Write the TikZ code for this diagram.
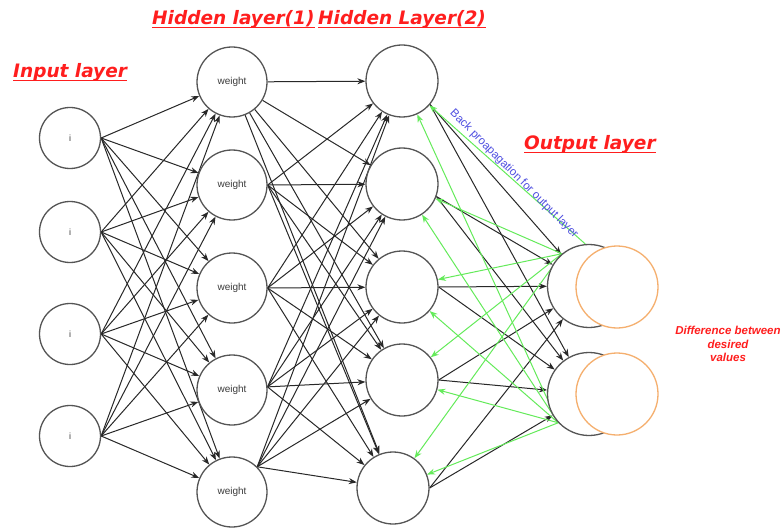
\documentclass[tikz,border=0pt]{standalone}
\usepackage{fontspec}
\setmainfont{Liberation Sans}
\newfontfamily\titlefont{DejaVu Sans}
\usetikzlibrary{arrows.meta,backgrounds}
\definecolor{ttred}{RGB}{255,30,30}
\definecolor{edgegray}{RGB}{40,40,40}
\definecolor{ringgray}{RGB}{85,85,85}
\definecolor{bpgreen}{RGB}{100,235,90}
\definecolor{errorange}{RGB}{245,175,110}
\definecolor{bpblue}{RGB}{80,80,225}
\definecolor{labelgray}{RGB}{60,60,60}

\begin{document}
\begin{tikzpicture}[x=1pt,y=-1pt,
  neuron/.style={circle,draw=ringgray,line width=1.3pt,fill=white,inner sep=0pt},
  inp/.style={neuron,minimum size=61pt,font=\fontsize{9}{10}\selectfont,text=labelgray},
  hida/.style={neuron,minimum size=70pt,font=\fontsize{10}{12}\selectfont,text=labelgray},
  hidb/.style={neuron,minimum size=72pt},
  outn/.style={neuron,minimum size=83pt},
  errn/.style={neuron,draw=errorange,minimum size=82pt},
  fwd/.style={draw=edgegray,line width=1pt,-{Stealth[length=8pt,width=6pt]}},
  bwd/.style={draw=bpgreen,line width=1pt,-{Stealth[length=8pt,width=6pt]}},
  layertitle/.style={text=ttred,font=\titlefont\bfseries\itshape\fontsize{18.5}{20}\selectfont,inner sep=0pt,anchor=base west},
  ul/.style={draw=ttred,line width=1.8pt},
]
\useasboundingbox (0,0) rectangle (783,529);

% input layer
\node[inp] (i1) at (70,138) {i};
\node[inp] (i2) at (70,232) {i};
\node[inp] (i3) at (70,334) {i};
\node[inp] (i4) at (70,436) {i};

% hidden layer 1
\node[hida] (a1) at (232,82) {weight};
\node[hida] (a2) at (232,185) {weight};
\node[hida] (a3) at (232,288) {weight};
\node[hida] (a4) at (232,390) {weight};
\node[hida] (a5) at (232,492) {weight};

% hidden layer 2
\node[hidb] (b1) at (402,81) {};
\node[hidb] (b2) at (402,184) {};
\node[hidb] (b3) at (402,287) {};
\node[hidb] (b4) at (402,380) {};
\node[hidb] (b5) at (393,488) {};

% output layer and error circles
\node[outn] (o1) at (589,286) {};
\node[outn] (o2) at (589,394) {};
\node[errn] (d1) at (617,287) {};
\node[errn] (d2) at (617,394) {};

\begin{scope}[on background layer]
  \fill[white] (0,0) rectangle (783,529);
  % input -> hidden 1
  \foreach \s in {1,...,4}
    \foreach \t in {1,...,5}
      \draw[fwd] (i\s.east) -- (a\t);
  % hidden 1 -> hidden 2
  \foreach \t in {1,...,5} {
    \draw[fwd] (a1) -- (b\t);
    \draw[fwd] (a2.east) -- (b\t);
    \draw[fwd] (a3.east) -- (b\t);
    \draw[fwd] (a4.5) -- (b\t);
    \draw[fwd] (a5.45) -- (b\t);
  }
  % hidden 2 -> output
  \foreach \o in {1,2} {
    \draw[fwd] (b1.-40) -- (o\o);
    \draw[fwd] (b2.-20) -- (o\o);
    \draw[fwd] (b3.east) -- (o\o);
    \draw[fwd] (b4.east) -- (o\o);
    \draw[fwd] (b5.east) -- (o\o);
  }
  % error back propagation
  \draw[bwd] (o1.95) -- (b1);
  \foreach \t in {2,...,5}
    \draw[bwd] (o1.130) -- (b\t);
  \foreach \t in {1,...,5}
    \draw[bwd] (o2.-137) -- (b\t);
\end{scope}

% layer titles
\node[layertitle] (tin) at (13,78) {Input layer};
\node[layertitle] (th1) at (152,25) {Hidden layer(1)};
\node[layertitle] (th2) at (318,25) {Hidden Layer(2)};
\node[layertitle] (tout) at (524,150) {Output layer};
\foreach \n in {tin,th1,th2,tout}
  \draw[ul] ([yshift=-2.6pt]\n.base west) -- ([yshift=-2.6pt]\n.base east);

\node[text=bpblue,font=\fontsize{11.5}{13}\selectfont,rotate=-45,inner sep=0pt] (bp) at (514,174) {Back proapagation for output layer};

\node[text=ttred,font=\bfseries\itshape\fontsize{11.5}{13.5}\selectfont,align=center,inner sep=0pt] (diff) at (728,344) {Difference between\\desired\\values};
\end{tikzpicture}
\end{document}
